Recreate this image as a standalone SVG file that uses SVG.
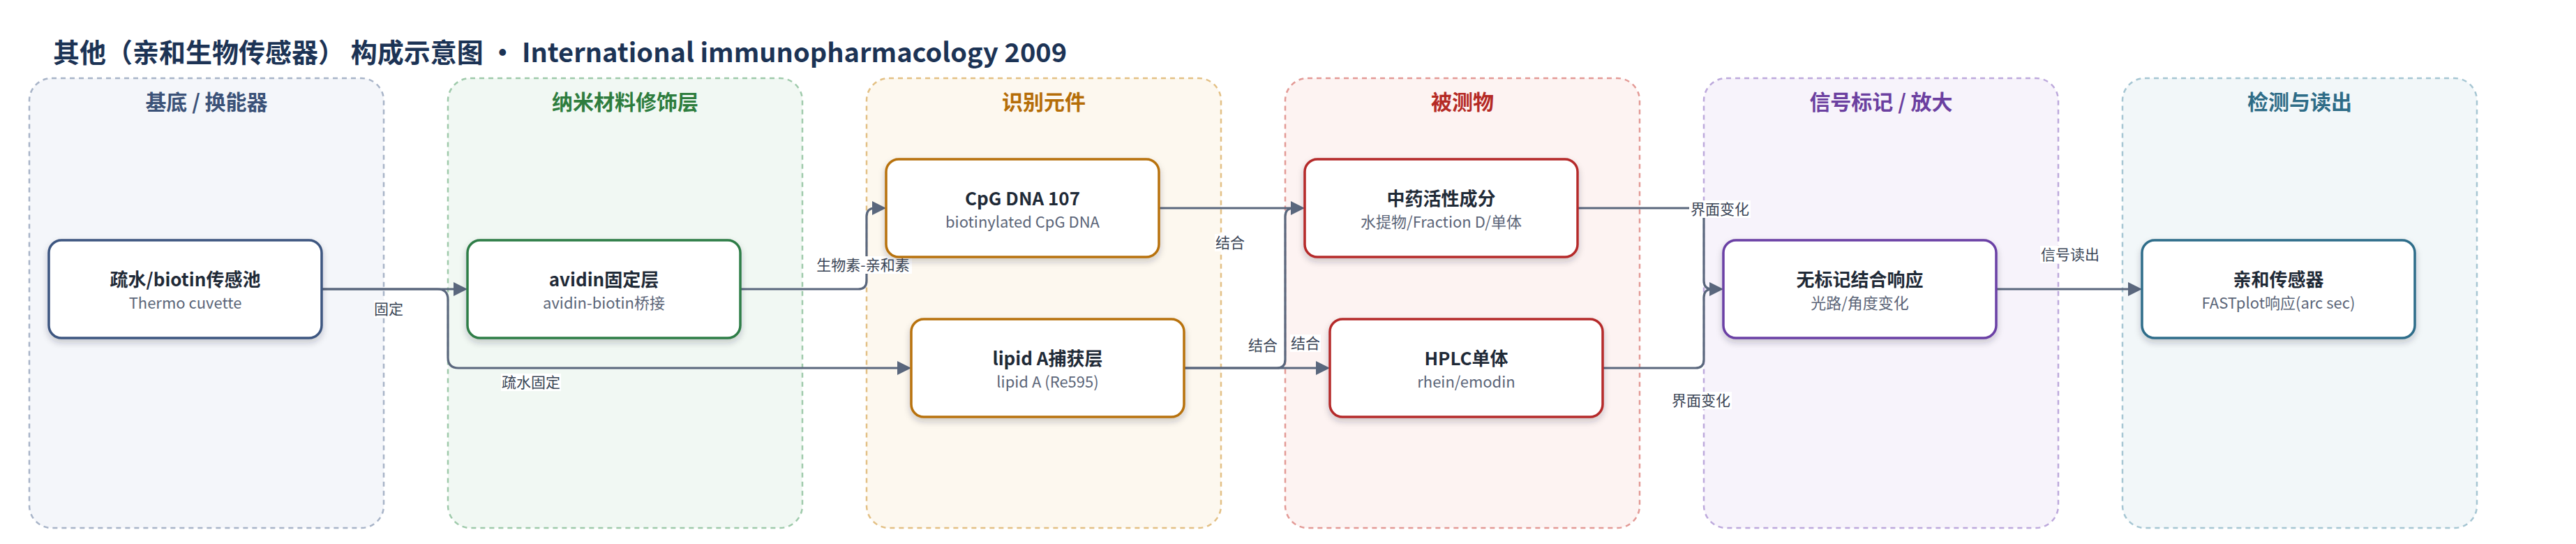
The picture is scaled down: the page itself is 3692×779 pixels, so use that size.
<svg xmlns="http://www.w3.org/2000/svg" width="3692" height="779" viewBox="0 0 3692 779">
<defs>
<style>
text{font-family:"Noto Sans CJK SC","Noto Sans",sans-serif;}
.title{font-size:38px;font-weight:700;fill:#1c3355;}
.lane{stroke-width:2.5;stroke-dasharray:7 6;}
.lt{font-size:30px;font-weight:700;text-anchor:middle;}
.node{fill:#fff;stroke-width:3.5;filter:url(#sh);}
.nt{font-size:26px;font-weight:700;fill:#1f2a37;text-anchor:middle;}
.ns{font-size:22px;fill:#5b6578;text-anchor:middle;}
.edge{fill:none;stroke:#5a677d;stroke-width:3.2;}
.ah{fill:#5a677d;}
.lb{fill:#fff;}
.el{font-size:21px;fill:#3a4556;text-anchor:middle;}
</style>
<filter id="sh" x="-10%" y="-20%" width="120%" height="150%">
<feDropShadow dx="0" dy="5" stdDeviation="5" flood-color="#1f2a37" flood-opacity="0.22"/>
</filter>
</defs>
<rect width="3692" height="779" fill="#fff"/>
<text class="title" x="76" y="89">其他（亲和生物传感器） 构成示意图 • International immunopharmacology 2009</text>

<g id="lanes">
<g id="lane1"><rect class="lane" x="42" y="112" width="508" height="644" rx="32" fill="#f4f6fa" stroke="#a8b4c8"/><text class="lt" x="296" y="157" fill="#3b5278">基底 / 换能器</text></g>
<g id="lane2"><rect class="lane" x="642" y="112" width="508" height="644" rx="32" fill="#f1f8f3" stroke="#9fcaab"/><text class="lt" x="896" y="157" fill="#2e7d3e">纳米材料修饰层</text></g>
<g id="lane3"><rect class="lane" x="1242" y="112" width="508" height="644" rx="32" fill="#fdf8ef" stroke="#e3c085"/><text class="lt" x="1496" y="157" fill="#b56d08">识别元件</text></g>
<g id="lane4"><rect class="lane" x="1842" y="112" width="508" height="644" rx="32" fill="#fdf3f2" stroke="#e39a96"/><text class="lt" x="2096" y="157" fill="#b52a25">被测物</text></g>
<g id="lane5"><rect class="lane" x="2442" y="112" width="508" height="644" rx="32" fill="#f7f3fb" stroke="#bda9dc"/><text class="lt" x="2696" y="157" fill="#6b3fa0">信号标记 / 放大</text></g>
<g id="lane6"><rect class="lane" x="3042" y="112" width="508" height="644" rx="32" fill="#f2f7f9" stroke="#a6c6d3"/><text class="lt" x="3296" y="157" fill="#2e6c87">检测与读出</text></g>
</g>

<g id="connectors">
<path class="edge" d="M461,414 H651"/>
<path class="edge" d="M461,414 H627 Q642,414 642,429 V512 Q642,527 657,527 H1287"/>
<path class="edge" d="M1061,414 H1230 Q1242,414 1242,402 V310 Q1242,298 1254,298 H1251"/>
<path class="edge" d="M1661,298 H1851"/>
<path class="edge" d="M1697,527 H1887"/>
<path class="edge" d="M1697,527 H1830 Q1842,527 1842,515 V310 Q1842,298 1854,298 H1851"/>
<path class="edge" d="M2261,298 H2430 Q2442,298 2442,310 V402 Q2442,414 2454,414 H2451"/>
<path class="edge" d="M2297,527 H2430 Q2442,527 2442,515 V426 Q2442,414 2454,414 H2451"/>
<path class="edge" d="M2861,414 H3051"/>
<path class="ah" d="M650,404 L670,414 L650,424 z"/>
<path class="ah" d="M1286,517 L1306,527 L1286,537 z"/>
<path class="ah" d="M1250,288 L1270,298 L1250,308 z"/>
<path class="ah" d="M1850,288 L1870,298 L1850,308 z"/>
<path class="ah" d="M1886,517 L1906,527 L1886,537 z"/>
<path class="ah" d="M2450,404 L2470,414 L2450,424 z"/>
<path class="ah" d="M3050,404 L3070,414 L3050,424 z"/>
<rect class="lb" x="536" y="430" width="42" height="25"/><text class="el" x="557" y="450">固定</text>
<rect class="lb" x="718" y="535" width="86" height="25"/><text class="el" x="761" y="555">疏水固定</text>
<rect class="lb" x="1167" y="367" width="140" height="25"/><text class="el" x="1237" y="387">生物素-亲和素</text>
<rect class="lb" x="1741" y="335" width="43" height="25"/><text class="el" x="1763" y="355">结合</text>
<rect class="lb" x="1789" y="482" width="43" height="25"/><text class="el" x="1810" y="502">结合</text>
<rect class="lb" x="1849" y="479" width="44" height="25"/><text class="el" x="1871" y="499">结合</text>
<rect class="lb" x="2421" y="287" width="88" height="25"/><text class="el" x="2465" y="307">界面变化</text>
<rect class="lb" x="2394" y="561" width="88" height="25"/><text class="el" x="2438" y="581">界面变化</text>
<rect class="lb" x="2924" y="352" width="87" height="25"/><text class="el" x="2967" y="372">信号读出</text>
</g>

<g id="n1"><rect class="node" x="70" y="344" width="391" height="140" rx="18" stroke="#3d5680"/><text class="nt" x="265.5" y="410">疏水/biotin传感池</text><text class="ns" x="265.5" y="442">Thermo cuvette</text></g>
<g id="n2"><rect class="node" x="670" y="344" width="391" height="140" rx="18" stroke="#2e7d46"/><text class="nt" x="865.5" y="410">avidin固定层</text><text class="ns" x="865.5" y="442">avidin-biotin桥接</text></g>
<g id="n3"><rect class="node" x="1270" y="228" width="391" height="140" rx="18" stroke="#b8720c"/><text class="nt" x="1465.5" y="294">CpG DNA 107</text><text class="ns" x="1465.5" y="326">biotinylated CpG DNA</text></g>
<g id="n4"><rect class="node" x="1306" y="457" width="391" height="140" rx="18" stroke="#b8720c"/><text class="nt" x="1501.5" y="523">lipid A捕获层</text><text class="ns" x="1501.5" y="555">lipid A (Re595)</text></g>
<g id="n5"><rect class="node" x="1870" y="228" width="391" height="140" rx="18" stroke="#b52a2a"/><text class="nt" x="2065.5" y="294">中药活性成分</text><text class="ns" x="2065.5" y="326">水提物/Fraction D/单体</text></g>
<g id="n6"><rect class="node" x="1906" y="457" width="391" height="140" rx="18" stroke="#b52a2a"/><text class="nt" x="2101.5" y="523">HPLC单体</text><text class="ns" x="2101.5" y="555">rhein/emodin</text></g>
<g id="n7"><rect class="node" x="2470" y="344" width="391" height="140" rx="18" stroke="#6b3fa5"/><text class="nt" x="2665.5" y="410">无标记结合响应</text><text class="ns" x="2665.5" y="442">光路/角度变化</text></g>
<g id="n8"><rect class="node" x="3070" y="344" width="391" height="140" rx="18" stroke="#2f6d8a"/><text class="nt" x="3265.5" y="410">亲和传感器</text><text class="ns" x="3265.5" y="442">FASTplot响应(arc sec)</text></g>
</svg>
